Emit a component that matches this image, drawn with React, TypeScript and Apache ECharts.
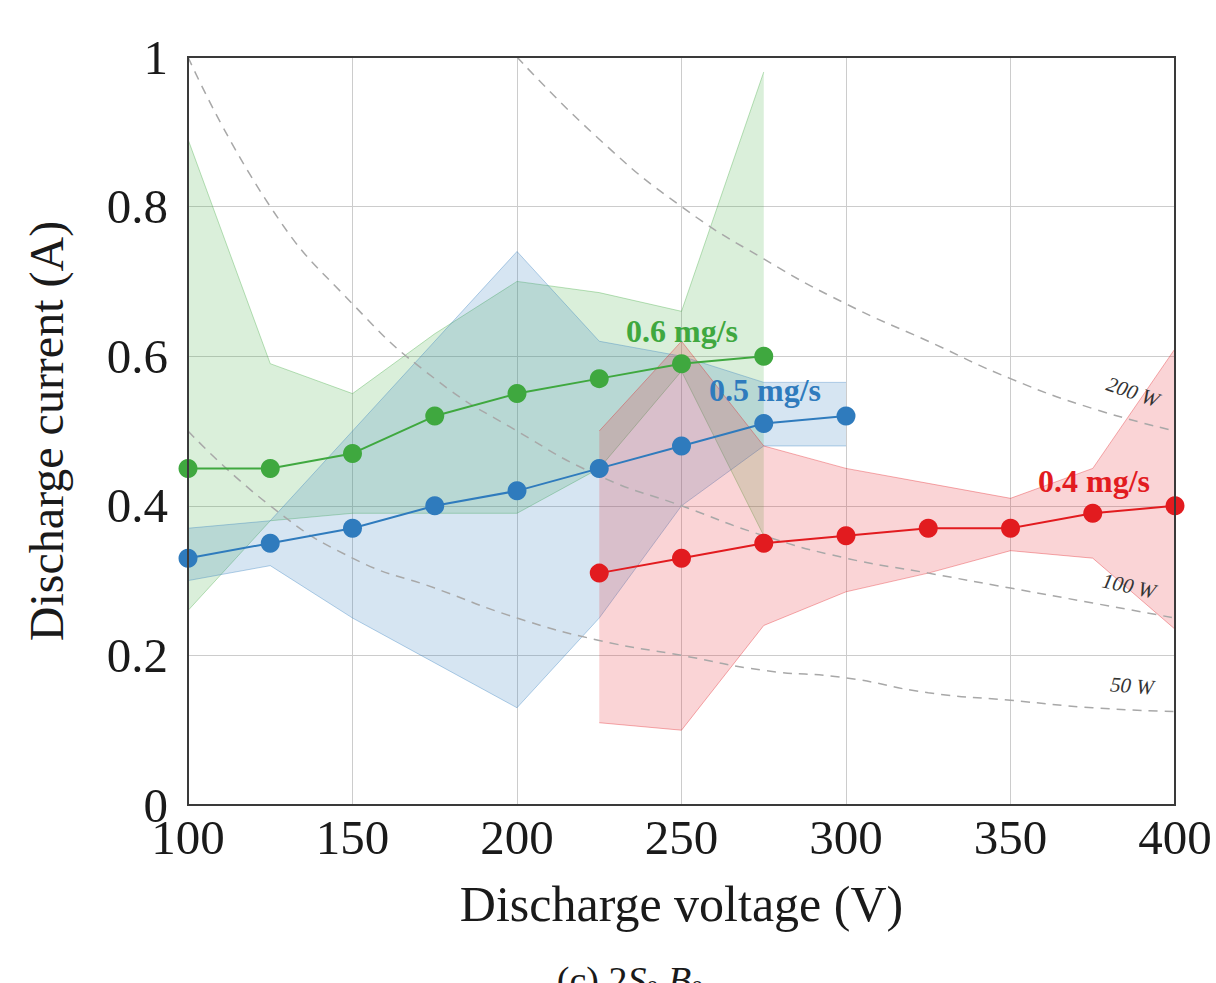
import React, { useEffect, useRef } from "react";
import * as echarts from "echarts";

// ---- data ----
const VOLT_06 = [100, 125, 150, 175, 200, 225, 250, 275];
const I_06 = [0.45, 0.45, 0.47, 0.52, 0.55, 0.57, 0.59, 0.6];
const LO_06 = [0.26, 0.38, 0.39, 0.39, 0.39, 0.45, 0.58, 0.36];
const HI_06 = [0.89, 0.59, 0.55, 0.63, 0.7, 0.685, 0.66, 0.98];

const VOLT_05 = [100, 125, 150, 175, 200, 225, 250, 275, 300];
const I_05 = [0.33, 0.35, 0.37, 0.4, 0.42, 0.45, 0.48, 0.51, 0.52];
const LO_05 = [0.3, 0.32, 0.25, 0.19, 0.13, 0.25, 0.4, 0.48, 0.48];
const HI_05 = [0.37, 0.38, 0.5, 0.62, 0.74, 0.62, 0.6, 0.565, 0.565];

const VOLT_04 = [225, 250, 275, 300, 325, 350, 375, 400];
const I_04 = [0.31, 0.33, 0.35, 0.36, 0.37, 0.37, 0.39, 0.4];
const LO_04 = [0.11, 0.1, 0.24, 0.285, 0.31, 0.34, 0.33, 0.235];
const HI_04 = [0.5, 0.62, 0.48, 0.45, 0.43, 0.41, 0.45, 0.61];

// iso-power curves
const VOLT_P = [100, 125, 150, 175, 200, 225, 250, 275, 300, 325, 350, 375, 400];
const I_50W = [0.5, 0.4, 0.33, 0.29, 0.25, 0.22, 0.2, 0.18, 0.17, 0.15, 0.14, 0.13, 0.125];
const I_100W = [1.0, 0.8, 0.67, 0.57, 0.5, 0.44, 0.4, 0.36, 0.33, 0.31, 0.29, 0.27, 0.25];
const VOLT_200 = [200, 225, 250, 275, 300, 325, 350, 375, 400];
const I_200W = [1.0, 0.89, 0.8, 0.73, 0.67, 0.62, 0.57, 0.53, 0.5];

const X_TICKS = [100, 150, 200, 250, 300, 350, 400];
const Y_LABELS = ["0", "0.2", "0.4", "0.6", "0.8", "1"];

const GREEN = "#3fa83f";
const BLUE = "#2f7bbd";
const RED = "#e21b1f";
const FONT = "'Liberation Serif', 'DejaVu Serif', serif";

const pairs = (xs: number[], ys: number[]) => xs.map((x, i) => [x, ys[i]]);

function band(xs: number[], lo: number[], hi: number[], color: string, fill: string) {
  return {
    type: "custom",
    coordinateSystem: "cartesian2d",
    silent: true,
    clip: true,
    z: 1,
    data: xs.map((x, i) => [x, lo[i], hi[i]]),
    encode: { x: 0, y: [1, 2] },
    renderItem: (params: any, api: any) => {
      if (params.dataIndex !== 0) return null;
      const upper = xs.map((x, i) => api.coord([x, hi[i]]));
      const lower = xs.map((x, i) => api.coord([x, lo[i]]));
      const poly = upper.concat(lower.slice().reverse());
      return {
        type: "group",
        children: [
          { type: "polygon", shape: { points: poly }, style: { fill, stroke: "none" } },
          {
            type: "polyline",
            shape: { points: upper },
            style: { stroke: color, lineWidth: 1, opacity: 0.35, fill: "none" },
          },
          {
            type: "polyline",
            shape: { points: lower },
            style: { stroke: color, lineWidth: 1, opacity: 0.35, fill: "none" },
          },
        ],
      };
    },
  };
}

function dashed(xs: number[], ys: number[]) {
  return {
    type: "line",
    data: pairs(xs, ys),
    smooth: true,
    showSymbol: false,
    silent: true,
    lineStyle: { width: 1.5, color: "#a8a8a8", type: [9, 7] },
    z: 2,
  };
}

function main(xs: number[], ys: number[], color: string) {
  return {
    type: "line",
    data: pairs(xs, ys),
    symbol: "circle",
    symbolSize: 19,
    itemStyle: { color },
    lineStyle: { width: 2, color },
    z: 3,
  };
}

const labelStyle = (text: string, fill: string, font: string) => ({
  text,
  fill,
  font,
  align: "center",
  verticalAlign: "middle",
});

export default function App() {
  const ref = useRef<HTMLDivElement>(null);
  useEffect(() => {
    document.body.style.margin = "0";
    const chart = echarts.init(ref.current!, null, { renderer: "svg" });
    chart.setOption({
      animation: false,
      backgroundColor: "#ffffff",
      grid: {
        left: 188,
        right: 41,
        top: 57,
        bottom: 178,
        show: true,
        borderColor: "#3a3a3a",
        borderWidth: 2,
        z: 5,
      },
      xAxis: {
        type: "value",
        min: 100,
        max: 400,
        interval: 50,
        name: "Discharge voltage (V)",
        nameLocation: "middle",
        nameGap: 74,
        nameTextStyle: { fontFamily: FONT, fontSize: 50, color: "#1a1a1a" },
        axisLine: { show: false },
        axisTick: { show: false },
        splitLine: { show: true, lineStyle: { color: "#cccccc", width: 1 } },
        axisLabel: {
          fontFamily: FONT,
          fontSize: 49,
          color: "#1a1a1a",
          margin: 8,
          formatter: (v: number) => (X_TICKS.includes(v) ? String(v) : ""),
        },
      },
      yAxis: {
        type: "value",
        min: 0,
        max: 1,
        interval: 0.2,
        name: "Discharge current (A)",
        nameLocation: "middle",
        nameGap: 118,
        nameTextStyle: { fontFamily: FONT, fontSize: 48, color: "#1a1a1a" },
        axisLine: { show: false },
        axisTick: { show: false },
        splitLine: { show: true, lineStyle: { color: "#cccccc", width: 1 } },
        axisLabel: {
          fontFamily: FONT,
          fontSize: 49,
          color: "#1a1a1a",
          margin: 20,
          formatter: (v: number) => Y_LABELS[Math.round(v * 5)] ?? "",
        },
      },
      series: [
        band(VOLT_06, LO_06, HI_06, GREEN, "rgba(70,175,70,0.2)"),
        band(VOLT_05, LO_05, HI_05, BLUE, "rgba(50,125,190,0.2)"),
        band(VOLT_04, LO_04, HI_04, RED, "rgba(230,40,50,0.2)"),
        dashed(VOLT_P, I_50W),
        dashed(VOLT_P, I_100W),
        dashed(VOLT_200, I_200W),
        main(VOLT_06, I_06, GREEN),
        main(VOLT_05, I_05, BLUE),
        main(VOLT_04, I_04, RED),
      ],
      graphic: [
        { type: "text", x: 682, y: 331, z: 10, style: labelStyle("0.6 mg/s", GREEN, `bold 32px ${FONT}`) },
        { type: "text", x: 765, y: 390, z: 10, style: labelStyle("0.5 mg/s", BLUE, `bold 32px ${FONT}`) },
        { type: "text", x: 1094, y: 481, z: 10, style: labelStyle("0.4 mg/s", RED, `bold 32px ${FONT}`) },
        {
          type: "text",
          x: 1133,
          y: 392,
          rotation: -0.33,
          z: 10,
          style: labelStyle("200 W", "#333", `italic 21px ${FONT}`),
        },
        {
          type: "text",
          x: 1129,
          y: 586,
          rotation: -0.22,
          z: 10,
          style: labelStyle("100 W", "#333", `italic 21px ${FONT}`),
        },
        {
          type: "text",
          x: 1132,
          y: 686,
          rotation: -0.08,
          z: 10,
          style: labelStyle("50 W", "#333", `italic 21px ${FONT}`),
        },
        {
          type: "text",
          x: 630,
          y: 960,
          z: 10,
          style: {
            text: "(c) 2{i|S}{s|0} {i|B}{s|0}",
            fill: "#1a1a1a",
            font: `38px ${FONT}`,
            align: "center",
            verticalAlign: "top",
            rich: {
              i: { fontFamily: FONT, fontSize: 38, fontStyle: "italic", fill: "#1a1a1a" },
              s: { fontFamily: FONT, fontSize: 24, fill: "#1a1a1a", padding: [16, 0, 0, 0] },
            },
          },
        },
      ],
    });
    return () => chart.dispose();
  }, []);
  return <div ref={ref} style={{ width: 1216, height: 983 }} />;
}
